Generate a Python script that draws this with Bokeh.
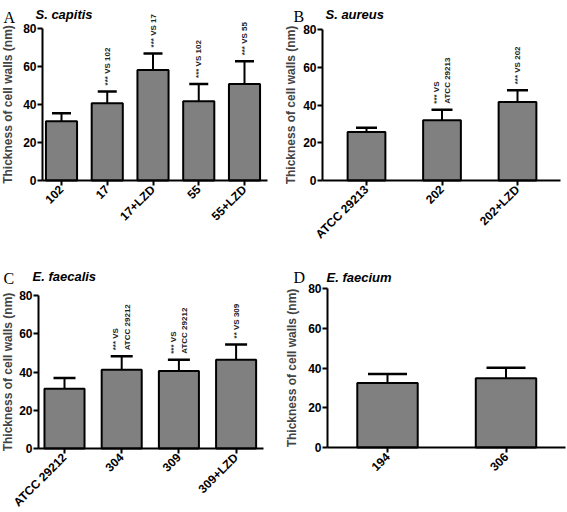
import numpy as np
from bokeh.plotting import figure
from bokeh.models import Range1d, FixedTicker, Whisker, TeeHead, ColumnDataSource, Label
from bokeh.layouts import gridplot
from bokeh.core.properties import value
from bokeh.embed import file_html
from bokeh.resources import INLINE

# ---- data ----
A_cats = ["102", "17", "17+LZD", "55", "55+LZD"]
A_means = [31.2, 40.6, 58.1, 41.7, 50.8]
A_sd = [4.2, 6.3, 8.8, 9.1, 11.9]
A_notes = ["", "*** VS 102", "*** VS 17", "*** VS 102", "*** VS 55"]

B_cats = ["ATCC 29213", "202", "202+LZD"]
B_means = [25.7, 31.9, 41.6]
B_sd = [2.3, 5.6, 6.2]
B_notes = ["", "*** VS\nATCC 29213", "*** VS 202"]

C_cats = ["ATCC 29212", "304", "309", "309+LZD"]
C_means = [31.3, 41.2, 40.5, 46.4]
C_sd = [5.6, 7.0, 5.9, 8.0]
C_notes = ["", "*** VS\nATCC 29212", "*** VS\nATCC 29212", "** VS 309"]

D_cats = ["194", "306"]
D_means = [32.5, 34.8]
D_sd = [4.5, 5.3]
D_notes = ["", ""]

y_ticks = [0, 20, 40, 60, 80]
y_label = "Thickness of cell walls (nm)"

FONT = "Liberation Sans"


def make_panel(cats, means, sds, notes, letter, species, g):
    # pixel layout of the panel -> ranges (frame fills the whole figure)
    step = g["step"]
    x0 = -g["c0"] / step
    x1 = (g["w"] - g["c0"]) / step
    yaxis_loc = (g["ax"] - g["c0"]) / step
    x_end = (g["xe"] - g["c0"]) / step
    ppu = (g["z"] - g["t"]) / y_ticks[-1]
    y0 = -(g["h"] - g["z"]) / ppu
    y1 = g["z"] / ppu

    xs = list(range(len(cats)))
    upper = [m + s for m, s in zip(means, sds)]
    p = figure(width=g["w"], height=g["h"], output_backend="svg", toolbar_location=None,
               x_range=Range1d(x0, x1), y_range=Range1d(y0, y1), min_border=0)
    p.min_border_left = 0
    p.min_border_right = 0
    p.min_border_top = 0
    p.min_border_bottom = 0
    p.outline_line_color = None
    p.grid.visible = False
    src = ColumnDataSource(dict(x=xs, top=means, upper=upper, note=notes))
    p.vbar(x="x", top="top", bottom=0, width=g["bw"], source=src,
           fill_color="#808080", line_color="black", line_width=2)
    w = Whisker(base="x", upper="upper", lower="top", source=src, dimension="height",
                line_width=2, line_color="black",
                upper_head=TeeHead(size=g["cap"], line_width=2.5, line_color="black"),
                lower_head=None, level="overlay")
    p.add_layout(w)
    p.text(x="x", y="upper", text="note", source=src, angle=np.pi / 2,
           text_align="left", text_baseline="middle", y_offset=-6,
           text_font=value(FONT), text_font_style="bold", text_font_size="8px",
           text_color="#222222", text_line_height=1.3)

    for ax in (p.xaxis[0], p.yaxis[0]):
        ax.axis_line_width = 2
        ax.major_tick_line_width = 2
        ax.major_tick_out = 5
        ax.major_tick_in = 0
        ax.minor_tick_line_color = None
        ax.major_label_text_font = FONT
        ax.major_label_text_font_style = "bold"
        ax.major_label_text_font_size = "12px"
        ax.major_label_text_color = "black"
        ax.major_label_standoff = 2
    p.yaxis.major_label_standoff = 1
    p.yaxis.fixed_location = yaxis_loc
    p.yaxis.ticker = FixedTicker(ticks=y_ticks)
    p.yaxis.bounds = (y_ticks[0], y_ticks[-1])
    p.yaxis.axis_label = y_label
    p.yaxis.axis_label_text_font = FONT
    p.yaxis.axis_label_text_font_style = "bold"
    p.yaxis.axis_label_text_font_size = "12px"
    p.yaxis.axis_label_standoff = g["ls"]
    p.xaxis.fixed_location = 0
    p.xaxis.bounds = (yaxis_loc, x_end)
    p.xaxis.ticker = FixedTicker(ticks=xs)
    p.xaxis.major_label_overrides = {i: c for i, c in enumerate(cats)}
    p.xaxis.major_label_orientation = np.pi / 4

    # panel letter and species name (anchored at the figure's top-left corner)
    p.add_layout(Label(x=x0, y=y1, x_offset=g["lx"], y_offset=-g["ly"],
                       text=letter, text_font="Liberation Serif", text_font_size="16px",
                       text_color="black", text_baseline="alphabetic"))
    p.add_layout(Label(x=x0, y=y1, x_offset=g["sx"], y_offset=-g["sy"],
                       text=species, text_font=FONT, text_font_size="13px",
                       text_font_style="bold italic", text_color="black",
                       text_baseline="alphabetic"))
    return p


# w,h: figure size; ax: y-axis x px; c0: first bar centre px; step: bar spacing px;
# xe: x-axis end px; z: y=0 px; t: y=80 px; bw: bar width (units); cap: whisker cap px
gA = dict(w=283, h=250, ax=42, c0=61, step=45.75, xe=267, z=180, t=28, ls=5,
          bw=0.68, cap=19, lx=3, ly=17, sx=35, sy=13.5)
gB = dict(w=283, h=250, ax=39, c0=83, step=75.5, xe=277, z=180, t=29, ls=2,
          bw=0.5, cap=21, lx=10, ly=16, sx=42, sy=13.5)
gC = dict(w=283, h=261, ax=38, c0=64, step=57.2, xe=263, z=198, t=45, ls=1,
          bw=0.7, cap=22, lx=3, ly=28, sx=32, sy=26)
gD = dict(w=283, h=261, ax=44, c0=104, step=118.5, xe=282, z=197, t=38, ls=6,
          bw=0.51, cap=39, lx=10, ly=27, sx=43, sy=26.5)

pA = make_panel(A_cats, A_means, A_sd, A_notes, "A", "S. capitis", gA)
pB = make_panel(B_cats, B_means, B_sd, B_notes, "B", "S. aureus", gB)
pC = make_panel(C_cats, C_means, C_sd, C_notes, "C", "E. faecalis", gC)
pD = make_panel(D_cats, D_means, D_sd, D_notes, "D", "E. faecium", gD)

grid = gridplot([[pA, pB], [pC, pD]], toolbar_location=None)

open("out.html", "w").write(file_html(grid, INLINE))
